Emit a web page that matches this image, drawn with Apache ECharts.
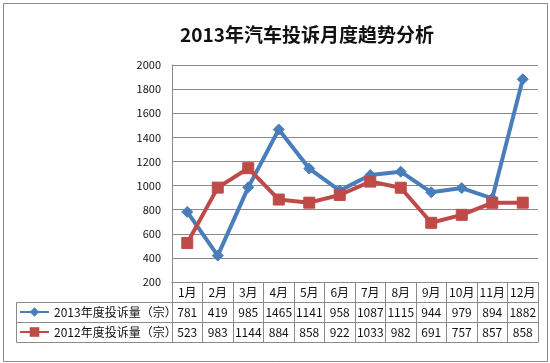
<!DOCTYPE html>
<html>
<head>
<meta charset="utf-8">
<script src="https://cdn.jsdelivr.net/npm/echarts@6/dist/echarts.min.js"></script>
<style>html,body{margin:0;padding:0;background:#fff;}#c{width:550px;height:363px;}</style>
</head>
<body>
<div id="c"></div>
<script>
var title = '2013年汽车投诉月度趋势分析';
var months = ['1月','2月','3月','4月','5月','6月','7月','8月','9月','10月','11月','12月'];
var name2013 = '2013年度投诉量（宗）';
var name2012 = '2012年度投诉量（宗）';
var values2013 = [781, 419, 985, 1465, 1141, 958, 1087, 1115, 944, 979, 894, 1882];
var values2012 = [523, 983, 1144, 884, 858, 922, 1033, 982, 691, 757, 857, 858];
var yMin = 200, yMax = 2000, yStep = 200;

var FONT = '"Noto Sans CJK SC", "Noto Sans", sans-serif';
var GRID_C = '#8a8a8a';
var BLUE = '#4a7ebb';
var RED = '#be4b48';

var chart = echarts.init(document.getElementById('c'), null, {renderer: 'canvas'});

function tableAxis(data, offset, showLabel) {
  return {
    type: 'category',
    position: 'bottom',
    gridIndex: 0,
    offset: offset,
    data: data,
    boundaryGap: true,
    axisLine: {show: true, lineStyle: {color: GRID_C, width: 1}},
    axisTick: {show: false},
    axisLabel: {show: showLabel, interval: 0, margin: 4, color: '#111', fontSize: 12, fontFamily: FONT, lineHeight: 12},
    splitLine: {show: false}
  };
}

var option = {
  backgroundColor: '#fff',
  animation: false,
  title: {
    text: title,
    left: 302,
    textAlign: 'center',
    top: 20,
    textStyle: {fontSize: 19, fontWeight: 'bold', color: '#111', fontFamily: FONT}
  },
  legend: {
    orient: 'vertical',
    left: 19,
    top: 306,
    padding: 0,
    itemGap: 8,
    itemWidth: 29,
    itemHeight: 12,
    selectedMode: false,
    textStyle: {fontSize: 12, color: '#111', fontFamily: FONT, lineHeight: 12},
    data: [name2013, name2012]
  },
  grid: {left: 172, right: 12, top: 65, bottom: 81, containLabel: false},
  xAxis: [
    {
      type: 'category',
      position: 'bottom',
      data: months,
      boundaryGap: true,
      axisLine: {show: true, lineStyle: {color: GRID_C, width: 1}},
      axisTick: {show: true, inside: false, length: 60, interval: 0, lineStyle: {color: GRID_C, width: 1}},
      axisLabel: {interval: 0, margin: 4, color: '#111', fontSize: 12, fontFamily: FONT, lineHeight: 12},
      splitLine: {show: false}
    },
    tableAxis(values2013.map(String), 20, true),
    tableAxis(values2012.map(String), 40, true),
    tableAxis(months.map(function(){return '';}), 60, false)
  ],
  yAxis: {
    type: 'value',
    min: yMin,
    max: yMax,
    interval: yStep,
    axisLine: {show: true, lineStyle: {color: GRID_C, width: 1}},
    axisTick: {show: false},
    axisLabel: {margin: 11, color: '#111', fontSize: 11, fontFamily: FONT, formatter: function (v) { return String(v); }},
    splitLine: {show: true, lineStyle: {color: GRID_C, width: 1}}
  },
  series: [
    {
      name: name2013,
      type: 'line',
      xAxisIndex: 0,
      data: values2013,
      symbol: 'diamond',
      symbolSize: 11,
      showAllSymbol: true,
      itemStyle: {color: BLUE, borderColor: BLUE},
      lineStyle: {color: BLUE, width: 4},
      z: 3
    },
    {
      name: name2012,
      type: 'line',
      xAxisIndex: 0,
      data: values2012,
      symbol: 'rect',
      symbolSize: 11,
      showAllSymbol: true,
      itemStyle: {color: RED, borderColor: RED},
      lineStyle: {color: RED, width: 4},
      z: 4
    }
  ],
  graphic: [
    {type: 'rect', silent: true, z: -1,
     shape: {x: 3.5, y: 3.5, width: 544, height: 358},
     style: {fill: null, stroke: '#8c8c8c', lineWidth: 1}},
    {type: 'rect', silent: true,
     shape: {x: 16.5, y: 302.5, width: 156, height: 40},
     style: {fill: null, stroke: GRID_C, lineWidth: 1}},
    {type: 'line', silent: true,
     shape: {x1: 16.5, y1: 322.5, x2: 172.5, y2: 322.5},
     style: {stroke: GRID_C, lineWidth: 1}}
  ]
};
chart.setOption(option);
</script>
</body>
</html>
